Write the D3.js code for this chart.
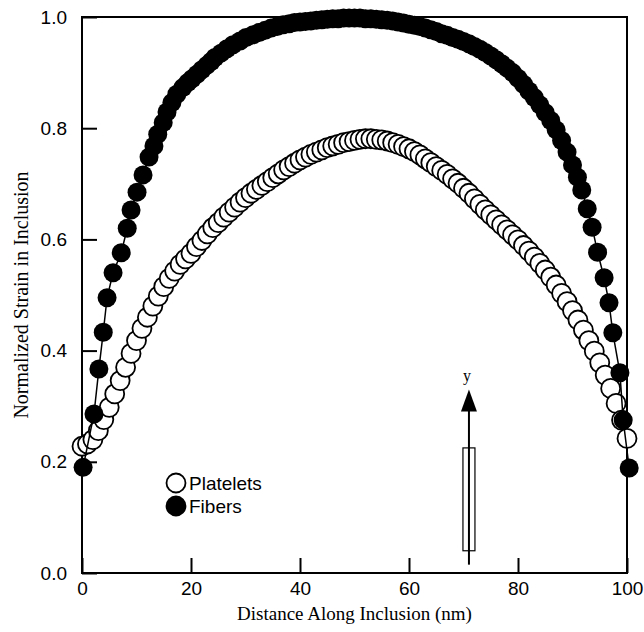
<!DOCTYPE html>
<html>
<head>
<meta charset="utf-8">
<script src="https://cdn.jsdelivr.net/npm/d3@7"></script>
<style>
    body { margin: 0; background: #fff; }
    .tick-label { font-family: "Liberation Sans", Arial, sans-serif; font-size: 19px; }
    .axis-title { font-family: "Liberation Serif", "Times New Roman", serif; font-size: 19px; }
</style>
</head>
<body>
<div id="chart"></div>
<script>
// platelets: open circles, one per nm
const plateletX = [0, 1, 2, 3, 4, 5, 6, 7, 8, 9, 10, 11, 12, 13, 14, 15, 16, 17, 18, 19,
    20, 21, 22, 23, 24, 25, 26, 27, 28, 29, 30, 31, 32, 33, 34, 35, 36, 37, 38, 39,
    40, 41, 42, 43, 44, 45, 46, 47, 48, 49, 50, 51, 52, 53, 54, 55, 56, 57, 58, 59,
    60, 61, 62, 63, 64, 65, 66, 67, 68, 69, 70, 71, 72, 73, 74, 75, 76, 77, 78, 79,
    80, 81, 82, 83, 84, 85, 86, 87, 88, 89, 90, 91, 92, 93, 94, 95, 96, 97, 98, 99, 100];
const plateletStrain = [0.228, 0.232, 0.24, 0.256, 0.276, 0.298, 0.322, 0.346, 0.37, 0.395,
    0.418, 0.44, 0.46, 0.48, 0.498, 0.515, 0.53, 0.543, 0.555, 0.565,
    0.575, 0.587, 0.598, 0.61, 0.621, 0.63, 0.64, 0.649, 0.658, 0.667,
    0.675, 0.683, 0.69, 0.697, 0.704, 0.711, 0.718, 0.725, 0.731, 0.737,
    0.743, 0.748, 0.753, 0.757, 0.761, 0.765, 0.768, 0.771, 0.774, 0.776,
    0.778, 0.78, 0.781, 0.781, 0.78, 0.779, 0.777, 0.774, 0.771, 0.767,
    0.763, 0.758, 0.752, 0.745, 0.738, 0.731, 0.724, 0.717, 0.709, 0.701,
    0.692, 0.683, 0.673, 0.663, 0.653, 0.644, 0.635, 0.626, 0.617, 0.608,
    0.599, 0.589, 0.579, 0.568, 0.557, 0.545, 0.532, 0.518, 0.503, 0.488,
    0.472, 0.455, 0.437, 0.418, 0.399, 0.378, 0.356, 0.332, 0.305, 0.275, 0.242];

// fibers: filled circles joined by a line
const fiberX = [0.2, 2.2, 3.1, 3.9, 4.6, 5.7, 7.2, 8.3, 9.0, 10.1,
    11.2, 12.3, 13.2, 13.9, 14.9, 15.6, 16.5, 17.4, 18.5, 19.4,
    20.2, 21.1, 22.0, 22.9, 23.7, 24.4, 25.5, 26.6, 27.7, 29.0,
    30.1, 31.4, 32.5, 33.6, 34.7, 35.8, 36.9,
    38, 39, 40, 41, 42, 43, 44, 45, 46, 47, 48, 49, 50, 51, 52, 53, 54, 55, 56, 57,
    58, 59, 60, 61, 62, 63, 64, 65, 66, 67, 68, 69, 70, 71, 72, 73, 74, 75, 76, 77,
    78, 79, 80, 81, 82, 83, 84, 85, 86, 87, 88, 89, 90,
    90.9, 91.7, 92.7, 93.6, 94.6, 95.8, 96.7, 97.4, 98.7, 99.3, 100.4];
const fiberStrain = [0.19, 0.286, 0.367, 0.433, 0.495, 0.54, 0.576, 0.62, 0.653, 0.685,
    0.716, 0.748, 0.768, 0.789, 0.81, 0.829, 0.846, 0.861, 0.873, 0.882,
    0.889, 0.897, 0.905, 0.913, 0.92, 0.927, 0.935, 0.943, 0.95, 0.957,
    0.963, 0.968, 0.972, 0.976, 0.98, 0.983, 0.986,
    0.988, 0.99, 0.991, 0.992, 0.993, 0.994, 0.995, 0.996, 0.997, 0.997,
    0.998, 0.998, 0.998, 0.998, 0.997, 0.997, 0.996, 0.995, 0.994, 0.993,
    0.991, 0.989, 0.987, 0.985, 0.983, 0.98, 0.977, 0.974, 0.97, 0.967,
    0.963, 0.96, 0.956, 0.952, 0.947, 0.942, 0.936, 0.93, 0.923, 0.916,
    0.908, 0.9, 0.89, 0.879, 0.867, 0.855, 0.842, 0.828, 0.814, 0.797,
    0.778, 0.757, 0.734,
    0.712, 0.689, 0.655, 0.622, 0.577, 0.531, 0.486, 0.432, 0.36, 0.275, 0.189];

const xTicks = [0, 20, 40, 60, 80, 100];
const yTicks = [0.0, 0.2, 0.4, 0.6, 0.8, 1.0];
const seriesNames = ['Platelets', 'Fibers'];

// inset sketch: fiber along y, drawn at x = 71 nm
const insetX = 71;

const config = {
    width: 644,
    height: 632,
    margin: { left: 82, right: 17, top: 17, bottom: 59 },
    radius: 9.5,
    tickSize: 15
};

const innerW = config.width - config.margin.left - config.margin.right;
const innerH = config.height - config.margin.top - config.margin.bottom;

const svg = d3.select('#chart')
    .append('svg')
    .attr('width', config.width)
    .attr('height', config.height);

const g = svg.append('g')
    .attr('transform', `translate(${config.margin.left},${config.margin.top})`);

const x = d3.scaleLinear().domain([0, 100]).range([0, innerW]);
const y = d3.scaleLinear().domain([0, 1]).range([innerH, 0]);

// frame
g.append('rect')
    .attr('width', innerW)
    .attr('height', innerH)
    .attr('fill', 'none')
    .attr('stroke', '#000')
    .attr('stroke-width', 2);

// axes with inward ticks
const xAxis = g.append('g')
    .attr('transform', `translate(0,${innerH})`)
    .call(d3.axisBottom(x).tickValues(xTicks).tickFormat(d3.format('d'))
        .tickSizeInner(-config.tickSize).tickSizeOuter(0).tickPadding(9));
const yAxis = g.append('g')
    .call(d3.axisLeft(y).tickValues(yTicks).tickFormat(d3.format('.1f'))
        .tickSizeInner(-config.tickSize).tickSizeOuter(0).tickPadding(15));

[xAxis, yAxis].forEach((ax) => {
    ax.select('.domain').remove();
    ax.selectAll('.tick line').attr('stroke', '#000').attr('stroke-width', 2);
    ax.selectAll('.tick text')
        .attr('class', 'tick-label')
        .attr('fill', '#000');
    ax.attr('font-size', null).attr('font-family', null);
});

// axis titles
svg.append('text')
    .attr('class', 'axis-title')
    .attr('x', config.margin.left + innerW / 2)
    .attr('y', 620)
    .attr('text-anchor', 'middle')
    .text('Distance Along Inclusion (nm)');

svg.append('text')
    .attr('class', 'axis-title')
    .attr('transform', `translate(28,${config.margin.top + innerH / 2}) rotate(-90)`)
    .attr('text-anchor', 'middle')
    .style('font-size', '20px')
    .text('Normalized Strain in Inclusion');

// inset: arrow and rectangle
const arrowTop = 0.33;
const arrowBottom = 0.015;
const headLen = 0.034;
g.append('line')
    .attr('x1', x(insetX)).attr('x2', x(insetX))
    .attr('y1', y(arrowBottom)).attr('y2', y(arrowTop - headLen))
    .attr('stroke', '#000')
    .attr('stroke-width', 2);
g.append('path')
    .attr('d', `M${x(insetX)},${y(arrowTop)} L${x(insetX) - 8},${y(arrowTop - headLen) + 3} ` +
        `L${x(insetX) + 8},${y(arrowTop - headLen) + 3} Z`)
    .attr('fill', '#000');
g.append('rect')
    .attr('x', x(insetX) - 6)
    .attr('y', y(0.225))
    .attr('width', 12)
    .attr('height', y(0.04) - y(0.225))
    .attr('fill', 'none')
    .attr('stroke', '#000')
    .attr('stroke-width', 1.2);
g.append('text')
    .attr('x', x(insetX) - 2)
    .attr('y', y(arrowTop) - 9)
    .attr('text-anchor', 'middle')
    .style('font-family', '"Liberation Serif", serif')
    .style('font-size', '16px')
    .text('y');

// platelets
const platelets = plateletX.map((d, i) => ({ x: d, v: plateletStrain[i] }));
g.selectAll('.platelet')
    .data(platelets)
    .enter()
    .append('circle')
    .attr('class', 'platelet')
    .attr('cx', (d) => x(d.x))
    .attr('cy', (d) => y(d.v))
    .attr('r', config.radius)
    .attr('fill', '#fff')
    .attr('stroke', '#000')
    .attr('stroke-width', 1.8);

// fibers
const fibers = fiberX.map((d, i) => ({ x: d, v: fiberStrain[i] }));
g.append('path')
    .datum(fibers)
    .attr('d', d3.line().x((d) => x(d.x)).y((d) => y(d.v)))
    .attr('fill', 'none')
    .attr('stroke', '#000')
    .attr('stroke-width', 1.5);
g.selectAll('.fiber')
    .data(fibers)
    .enter()
    .append('circle')
    .attr('class', 'fiber')
    .attr('cx', (d) => x(d.x))
    .attr('cy', (d) => y(d.v))
    .attr('r', config.radius)
    .attr('fill', '#000');

// legend
const legend = svg.append('g').attr('transform', 'translate(176,483)');
seriesNames.forEach((name, i) => {
    legend.append('circle')
        .attr('cx', 0)
        .attr('cy', i * 23)
        .attr('r', config.radius)
        .attr('fill', i === 0 ? '#fff' : '#000')
        .attr('stroke', '#000')
        .attr('stroke-width', 1.8);
    legend.append('text')
        .attr('class', 'tick-label')
        .attr('x', 13)
        .attr('y', i * 23 + 7)
        .text(name);
});
</script>
</body>
</html>
